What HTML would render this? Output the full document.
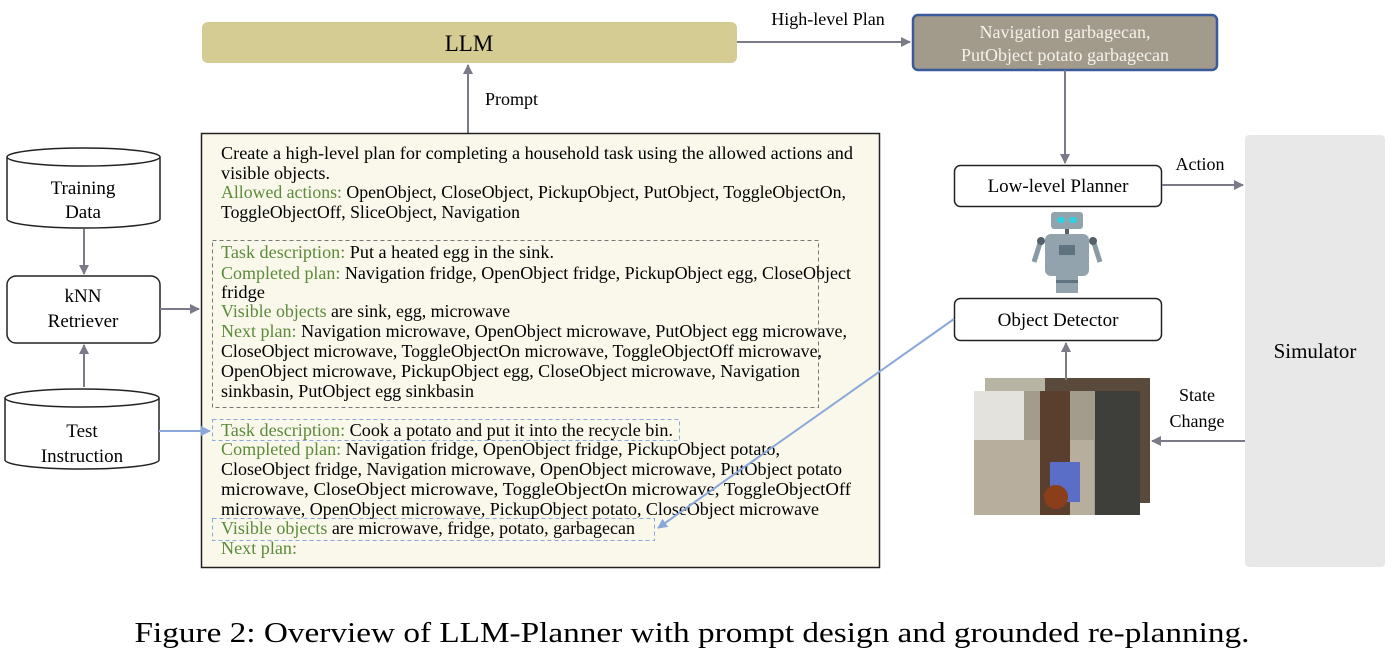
<!DOCTYPE html>
<html><head><meta charset="utf-8"><style>
html,body{margin:0;padding:0;background:#fff;}
svg{display:block;font-family:"Liberation Serif",serif;}
.g{fill:#5b8a3a}
</style></head><body>
<svg width="1395" height="652" viewBox="0 0 1395 652" xmlns="http://www.w3.org/2000/svg">
<defs>
<marker id="ah" markerWidth="10" markerHeight="10" refX="9" refY="5" orient="auto" markerUnits="userSpaceOnUse"><path d="M0,0 L10,5 L0,10 z" fill="#7a7a88"/></marker>
<marker id="ab" markerWidth="10" markerHeight="10" refX="9" refY="5" orient="auto" markerUnits="userSpaceOnUse"><path d="M0,0 L10,5 L0,10 z" fill="#8aa8dc"/></marker>
</defs>
<rect x="202" y="22" width="535" height="41" rx="6" fill="#d5cc94"/>
<text x="469" y="51" font-size="23" text-anchor="middle">LLM</text>
<line x1="737" y1="42" x2="910" y2="42" stroke="#7a7a88" stroke-width="2" marker-end="url(#ah)"/>
<text x="828" y="25" font-size="18" text-anchor="middle">High-level Plan</text>
<rect x="913" y="15" width="304" height="55" rx="5" fill="#a29b8c" stroke="#3a5a9c" stroke-width="2.5"/>
<text x="1065" y="38" font-size="18" text-anchor="middle" fill="#f4f2ea">Navigation garbagecan,</text>
<text x="1065" y="61" font-size="18" text-anchor="middle" fill="#f4f2ea">PutObject potato garbagecan</text>
<line x1="1065" y1="70" x2="1065" y2="163" stroke="#7a7a88" stroke-width="2" marker-end="url(#ah)"/>
<line x1="468" y1="133" x2="468" y2="65" stroke="#7a7a88" stroke-width="2" marker-end="url(#ah)"/>
<text x="485" y="105" font-size="18">Prompt</text>
<rect x="201.5" y="133.5" width="678" height="434" fill="#faf8eb" stroke="#222" stroke-width="1.5"/>
<rect x="212.5" y="240.5" width="606" height="167" fill="none" stroke="#777" stroke-dasharray="4,3"/>
<rect x="212.5" y="419.5" width="467" height="21" fill="none" stroke="#8aa8dc" stroke-dasharray="4,3"/>
<rect x="212.5" y="518.5" width="442" height="22" fill="none" stroke="#8aa8dc" stroke-dasharray="4,3"/>
<g font-size="17.5">
<text x="221" y="159" textLength="632" lengthAdjust="spacingAndGlyphs">Create a high-level plan for completing a household task using the allowed actions and</text>
<text x="221" y="179" textLength="109" lengthAdjust="spacingAndGlyphs">visible objects.</text>
<text x="221" y="198" textLength="625" lengthAdjust="spacingAndGlyphs"><tspan class="g">Allowed actions:</tspan> OpenObject, CloseObject, PickupObject, PutObject, ToggleObjectOn,</text>
<text x="221" y="218" textLength="299" lengthAdjust="spacingAndGlyphs">ToggleObjectOff, SliceObject, Navigation</text>
<text x="221" y="258" textLength="333" lengthAdjust="spacingAndGlyphs"><tspan class="g">Task description:</tspan> Put a heated egg in the sink.</text>
<text x="221" y="279" textLength="630" lengthAdjust="spacingAndGlyphs"><tspan class="g">Completed plan:</tspan> Navigation fridge, OpenObject fridge, PickupObject egg, CloseObject</text>
<text x="221" y="298" textLength="44" lengthAdjust="spacingAndGlyphs">fridge</text>
<text x="221" y="317" textLength="289" lengthAdjust="spacingAndGlyphs"><tspan class="g">Visible objects</tspan> are sink, egg, microwave</text>
<text x="221" y="337" textLength="626" lengthAdjust="spacingAndGlyphs"><tspan class="g">Next plan:</tspan> Navigation microwave, OpenObject microwave, PutObject egg microwave,</text>
<text x="221" y="357" textLength="601" lengthAdjust="spacingAndGlyphs">CloseObject microwave, ToggleObjectOn microwave, ToggleObjectOff microwave,</text>
<text x="221" y="377" textLength="579" lengthAdjust="spacingAndGlyphs">OpenObject microwave, PickupObject egg, CloseObject microwave, Navigation</text>
<text x="221" y="397" textLength="253" lengthAdjust="spacingAndGlyphs">sinkbasin, PutObject egg sinkbasin</text>
<text x="221" y="436" textLength="452" lengthAdjust="spacingAndGlyphs"><tspan class="g">Task description:</tspan> Cook a potato and put it into the recycle bin.</text>
<text x="221" y="455" textLength="559" lengthAdjust="spacingAndGlyphs"><tspan class="g">Completed plan:</tspan> Navigation fridge, OpenObject fridge, PickupObject potato,</text>
<text x="221" y="475" textLength="621" lengthAdjust="spacingAndGlyphs">CloseObject fridge, Navigation microwave, OpenObject microwave, PutObject potato</text>
<text x="221" y="495" textLength="630" lengthAdjust="spacingAndGlyphs">microwave, CloseObject microwave, ToggleObjectOn microwave, ToggleObjectOff</text>
<text x="221" y="515" textLength="598" lengthAdjust="spacingAndGlyphs">microwave, OpenObject microwave, PickupObject potato, CloseObject microwave</text>
<text x="221" y="534" textLength="414" lengthAdjust="spacingAndGlyphs"><tspan class="g">Visible objects</tspan> are microwave, fridge, potato, garbagecan</text>
<text x="221" y="554" class="g" textLength="76" lengthAdjust="spacingAndGlyphs">Next plan:</text>
</g>
<g fill="#fff" stroke="#222" stroke-width="1.5">
<path d="M7,157 L7,219 A76.5,9 0 0 0 160,219 L160,157"/>
<ellipse cx="83.5" cy="157" rx="76.5" ry="9"/>
<rect x="7" y="276" width="153" height="67" rx="9"/>
<path d="M5,398 L5,460 A77,9 0 0 0 159,460 L159,398"/>
<ellipse cx="82" cy="398" rx="77" ry="9"/>
</g>
<g font-size="19" text-anchor="middle">
<text x="83" y="194">Training</text><text x="83" y="218">Data</text>
<text x="83" y="302">kNN</text><text x="83" y="327">Retriever</text>
<text x="82" y="437">Test</text><text x="82" y="462">Instruction</text>
</g>
<line x1="84" y1="229" x2="84" y2="274" stroke="#7a7a88" stroke-width="2" marker-end="url(#ah)"/>
<line x1="84" y1="387" x2="84" y2="345" stroke="#7a7a88" stroke-width="2" marker-end="url(#ah)"/>
<line x1="160" y1="309" x2="199" y2="309" stroke="#7a7a88" stroke-width="2" marker-end="url(#ah)"/>
<line x1="159" y1="431" x2="210" y2="431" stroke="#8aa8dc" stroke-width="2" marker-end="url(#ab)"/>
<rect x="954.5" y="165.5" width="207" height="41" rx="6" fill="#fff" stroke="#222" stroke-width="1.5"/>
<text x="1058" y="192" font-size="19" text-anchor="middle">Low-level Planner</text>
<line x1="1162" y1="185" x2="1243" y2="185" stroke="#7a7a88" stroke-width="2" marker-end="url(#ah)"/>
<text x="1200" y="170" font-size="18" text-anchor="middle">Action</text>
<rect x="1245" y="135" width="140" height="432" rx="4" fill="#e8e8e8"/>
<text x="1315" y="358" font-size="21" text-anchor="middle">Simulator</text>
<g>
<rect x="1051" y="212" width="32" height="17" rx="3" fill="#93a3ad"/>
<rect x="1057" y="217" width="8" height="6" rx="3" fill="#2fd0e0"/>
<rect x="1069" y="217" width="8" height="6" rx="3" fill="#2fd0e0"/>
<rect x="1065" y="229" width="4" height="5" fill="#55606a"/>
<rect x="1045" y="234" width="44" height="42" rx="6" fill="#93a3ad"/>
<rect x="1059" y="245" width="16" height="10" fill="#5e7380"/>
<rect x="1056" y="276" width="22" height="17" fill="#93a3ad"/>
<rect x="1056" y="280" width="22" height="3" fill="#5e7380"/>
<path d="M1041,240 L1034,262 M1093,240 L1100,262" stroke="#8a9aa4" stroke-width="5"/>
<circle cx="1041" cy="241" r="4" fill="#55606a"/><circle cx="1093" cy="241" r="4" fill="#55606a"/>
</g>
<rect x="954.5" y="298.5" width="207" height="42" rx="6" fill="#fff" stroke="#222" stroke-width="1.5"/>
<text x="1058" y="326" font-size="19" text-anchor="middle">Object Detector</text>
<line x1="954" y1="319" x2="658" y2="528" stroke="#8aa8dc" stroke-width="2" marker-end="url(#ab)"/>
<rect x="985" y="378" width="165" height="125" fill="#5a4a3c"/>
<rect x="985" y="378" width="60" height="125" fill="#b8b4a4"/>
<rect x="974" y="391" width="166" height="124" fill="#a39c8c"/>
<rect x="974" y="391" width="50" height="55" fill="#e4e2dc"/>
<rect x="974" y="440" width="120" height="75" fill="#b7ae9e"/>
<rect x="1040" y="391" width="30" height="124" fill="#5a3e2e"/>
<rect x="1095" y="391" width="45" height="124" fill="#3e3e3a"/>
<rect x="1050" y="462" width="30" height="40" fill="#5a6ec8"/>
<circle cx="1056" cy="497" r="12" fill="#8a3e1a"/>
<line x1="1066" y1="380" x2="1066" y2="343" stroke="#7a7a88" stroke-width="2" marker-end="url(#ah)"/>
<line x1="1245" y1="441" x2="1152" y2="441" stroke="#7a7a88" stroke-width="2" marker-end="url(#ah)"/>
<text x="1197" y="401" font-size="18" text-anchor="middle">State</text>
<text x="1197" y="427" font-size="18" text-anchor="middle">Change</text>
<text x="692" y="642" font-size="29" text-anchor="middle" textLength="1115" lengthAdjust="spacingAndGlyphs">Figure 2: Overview of LLM-Planner with prompt design and grounded re-planning.</text>
</svg>
</body></html>
